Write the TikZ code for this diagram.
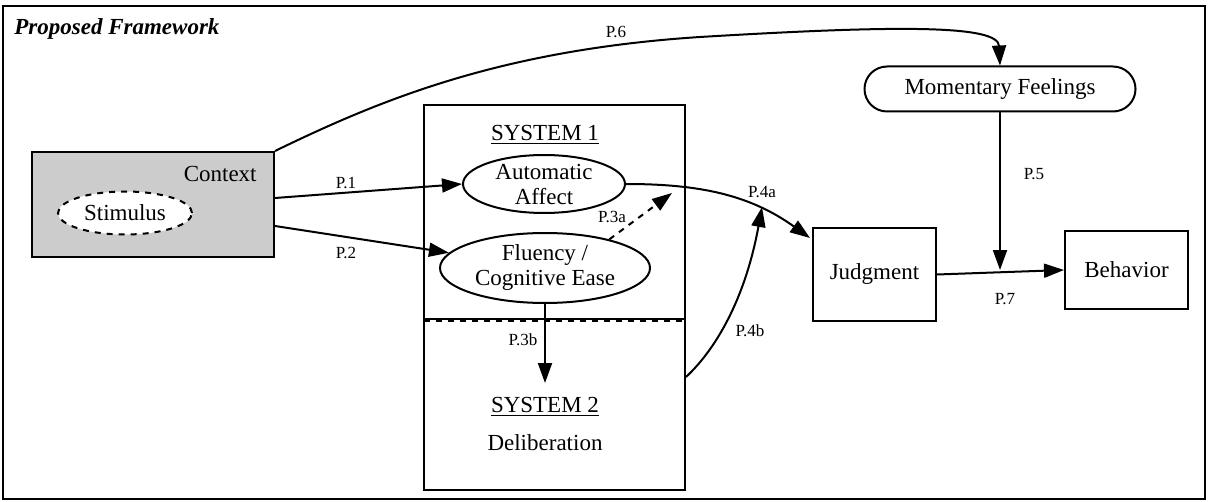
\documentclass[tikz,border=0pt]{standalone}
\usepackage{fontspec}
\setmainfont{Liberation Serif}
\usetikzlibrary{shapes.geometric,shapes.misc,arrows.meta,calc}
\begin{document}
\begin{tikzpicture}[x=0.5pt,y=-0.5pt,
  lw/.style={line width=1pt},
  tip/.style={-{Triangle[length=10pt,width=7pt]}},
  txt/.style={font=\fontsize{11.5}{12.5}\selectfont},
  boxs/.style={draw,lw,rectangle,inner sep=0pt,align=center,txt},
  ell/.style={draw,lw,ellipse,inner sep=0pt,align=center,txt},
  lab/.style={inner sep=0pt,font=\fontsize{8.5}{9}\selectfont},
  conn/.style={lw,tip}]
\useasboundingbox (0,0) rectangle (1208,502);
\node[draw,lw,rectangle,minimum width=601pt,minimum height=246.5pt,inner sep=0pt] (frame) at (604,252.5) {};
\node[inner sep=0pt,anchor=west,font=\fontsize{11.5}{12}\selectfont\bfseries\itshape] (title) at (14,29) {Proposed Framework};
% context
\node[boxs,fill=black!20,minimum width=121pt,minimum height=52.5pt] (ctx) at (153,204.5) {};
\node[inner sep=0pt,anchor=east,txt] (ctxt) at (257,174) {Context};
\node[ell,dashed,fill=white,minimum width=67pt,minimum height=21.5pt] (stim) at (125,213) {Stimulus};
% system box
\node[boxs,minimum width=130.5pt,minimum height=192.5pt] (sys) at (554.5,297.5) {};
\draw[line width=1pt] (424,318.5) -- (685,318.5);
\draw[line width=1pt,dashed] (424,321) -- (685,321);
\node[inner sep=0pt,txt] (s1) at (545,135) {\underline{SYSTEM 1}};
\node[ell,minimum width=81pt,minimum height=29pt] (aa) at (544,184) {Automatic\\Affect};
\node[ell,minimum width=105pt,minimum height=35pt] (fl) at (545,268) {Fluency /\\Cognitive Ease};
\node[inner sep=0pt,txt] (s2) at (545,407) {\underline{SYSTEM 2}};
\node[inner sep=0pt,txt] (delib) at (545,443) {Deliberation};
% right side
\node[draw,lw,rounded rectangle,inner sep=0pt,minimum width=135.5pt,minimum height=22.5pt,txt] (mf) at (1000,89) {Momentary Feelings};
\node[boxs,minimum width=61.5pt,minimum height=46.5pt] (jd) at (874.5,274.5) {Judgment};
\node[boxs,minimum width=61.5pt,minimum height=39pt] (bh) at (1126.5,270) {Behavior};
% coordinates
\coordinate (p3a) at (672,193);
\coordinate (p3b) at (545,383);
\coordinate (p4end) at (810,238);
\coordinate (p4b0) at (686,377);
\coordinate (p4bend) at (762,207);
\coordinate (p6m) at (700,37);
% connectors
\draw[conn] ($(ctx.east)+(0,-6.5)$) -- (aa.west);
\draw[conn] ($(ctx.east)+(0,21.5)$) -- (fl.171);
\draw[lw,dashed,tip] (fl.24) -- (p3a);
\draw[conn] (fl.south) -- (p3b);
\draw[conn] (aa.east) .. controls (700,184) and (750,195) .. (p4end);
\draw[conn] (p4b0) .. controls (715,350) and (745,300) .. (p4bend);
\draw[conn] (mf.south) -- (mf.south |- bh.west);
\draw[conn] (jd.east) -- (bh.west);
\draw[conn] (ctx.north east) .. controls (380,100) and (500,50) .. (p6m) .. controls (900,25) and (998,25) .. (mf.north);
% labels
\node[lab] (l1) at (346,183) {P.1};
\node[lab] (l2) at (346,253) {P.2};
\node[lab] (l3a) at (612,217) {P.3a};
\node[lab] (l3b) at (523,340) {P.3b};
\node[lab] (l4a) at (762,192) {P.4a};
\node[lab] (l4b) at (750,331) {P.4b};
\node[lab] (l5) at (1034,174) {P.5};
\node[lab] (l6) at (616,32) {P.6};
\node[lab] (l7) at (1005,299) {P.7};
\end{tikzpicture}
\end{document}
